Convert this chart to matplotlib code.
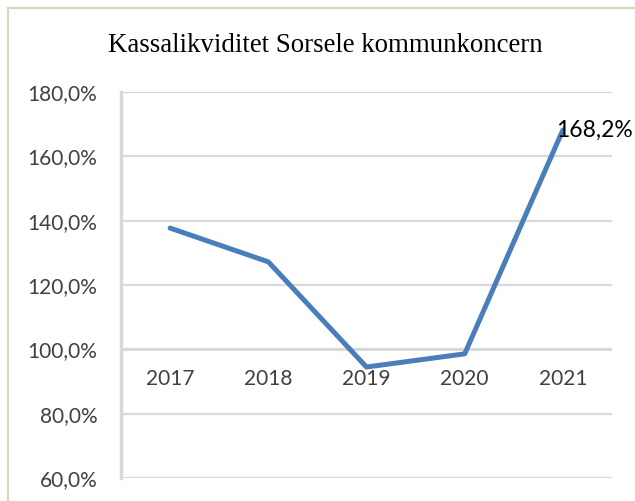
import matplotlib.pyplot as plt
from matplotlib.lines import Line2D
from matplotlib.ticker import FuncFormatter

years = ["2017", "2018", "2019", "2020", "2021"]
kassalikviditet = [137.7, 127.2, 94.5, 98.6, 168.2]
y_ticks = [60, 80, 100, 120, 140, 160, 180]

grid_col = "#D9D9D9"
line_col = "#4A7EBB"
text_col = "#404040"

fig = plt.figure(figsize=(6.35, 5.01), dpi=100)
ax = fig.add_axes([121 / 635, 1 - 478 / 501, (612 - 121) / 635, (478 - 92) / 501])

x = list(range(len(years)))
ax.plot(x, kassalikviditet, color=line_col, lw=3.6, solid_capstyle="round",
        solid_joinstyle="round", zorder=3)

ax.set_xlim(-0.5, len(years) - 0.5)
ax.set_ylim(60, 180)
ax.set_yticks(y_ticks)
ax.yaxis.set_major_formatter(FuncFormatter(lambda v, p: f"{v:.1f}".replace(".", ",") + "%"))
ax.grid(axis="y", color=grid_col, lw=1.6, zorder=0)
ax.set_xticks([])

for s in ["top", "right", "bottom"]:
    ax.spines[s].set_visible(False)
ax.spines["left"].set_color(grid_col)
ax.spines["left"].set_linewidth(2.5)
ax.tick_params(axis="y", length=0, pad=17, labelsize=15, labelcolor=text_col)
for lab in ax.get_yticklabels():
    lab.set_fontfamily("Lato")

# horizontal axis crosses at 100 %
ax.axhline(100, color=grid_col, lw=2.2, zorder=1)
for i, yr in enumerate(years):
    ax.text(i, 100 - 6.0, yr, ha="center", va="top", fontsize=15, color=text_col,
            family="Lato")

# data label for last point
ax.annotate(f"{kassalikviditet[-1]:.1f}".replace(".", ",") + "%",
            (x[-1], kassalikviditet[-1]), xytext=(-5, 0), textcoords="offset points",
            ha="left", va="center", fontsize=16.5, family="Lato", color="black",
            annotation_clip=False, zorder=4)

fig.text(0.513, 1 - 45 / 501, "Kassalikviditet Sorsele kommunkoncern", ha="center",
         va="center", fontsize=19.4, family="Liberation Serif", color="black")

# outer border
border_col = "#DAD7BE"
fig.add_artist(Line2D([8 / 635, 8 / 635], [0, 1 - 8 / 501], color=border_col, lw=1.6,
                      transform=fig.transFigure))
fig.add_artist(Line2D([8 / 635, 1], [1 - 8 / 501, 1 - 8 / 501], color=border_col, lw=1.6,
                      transform=fig.transFigure))

fig.savefig("out.png", dpi=100)
